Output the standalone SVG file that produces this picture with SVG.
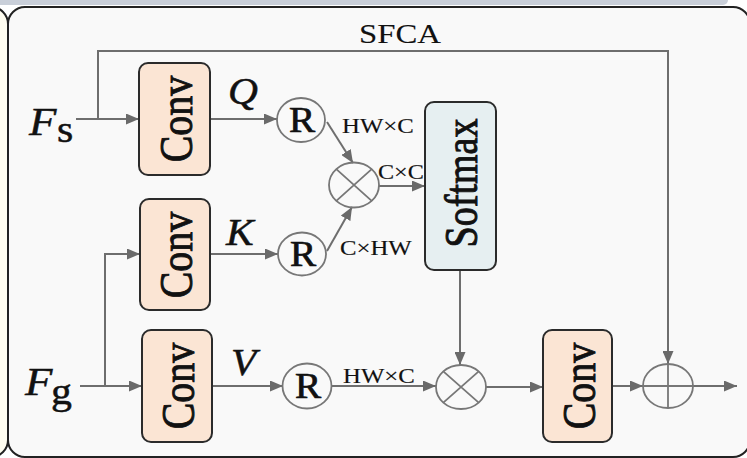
<svg xmlns="http://www.w3.org/2000/svg" width="747" height="458" viewBox="0 0 747 458">
<defs>
<marker id="ah" markerUnits="userSpaceOnUse" markerWidth="13" markerHeight="11" refX="13" refY="5.5" orient="auto">
<path d="M0,0 L13,5.5 L0,11 z" fill="#6a6a6a"/>
</marker>
<style>
.conn path{fill:none;stroke:#6e6e6e;stroke-width:2;marker-end:url(#ah)}
.box{stroke:#2b2b2b;stroke-width:2}
.conv{fill:#fbe5d4}
.soft{fill:#e6eff1}
.op{fill:none;stroke:#777;stroke-width:1.8}
.t{font-family:"Liberation Serif","Times New Roman",serif;fill:#111;stroke:#111;stroke-width:0.5}
.big{font-size:40px;stroke-width:0.8}
.rl{font-size:35px;stroke-width:0.7}
.dim{font-size:21px;stroke-width:0.15}
.it{font-style:italic}
</style>
</defs>
<rect x="0" y="0" width="747" height="458" fill="#ffffff"/>
<rect x="-20" y="-12" width="748" height="17" rx="5" fill="#c9cfd9"/>
<rect x="-200" y="7" width="208" height="450" rx="17" fill="#fffdf0" stroke="#222" stroke-width="2"/>
<rect x="8" y="7" width="742" height="450" rx="17" fill="#f9f9f9" stroke="#222" stroke-width="2"/>
<text class="t" font-size="28" style="stroke-width:0.1" text-anchor="middle" transform="translate(400,43) scale(1.17,1)">SFCA</text>

<g class="conn" id="connectors">
<path d="M76,119 H139"/>
<path d="M98,119 V51 H668 V364"/>
<path d="M210,119 H277"/>
<path d="M327,122 L353,163"/>
<path d="M327,251 L352,207"/>
<path d="M379,186 H425"/>
<path d="M210,254 H278"/>
<path d="M80,386 H142"/>
<path d="M105,386 V254 H140"/>
<path d="M212,386 H283"/>
<path d="M332,386 H436"/>
<path d="M460,270 V365"/>
<path d="M486,387 H543"/>
<path d="M612,386 H643"/>
<path d="M693,386 H737"/>
</g>

<g id="Fs">
<text class="t it" font-size="40" transform="translate(29,135) scale(1.12,1)">F</text>
<text class="t" font-size="38" transform="translate(57,142) scale(1.1,1)">s</text>
</g>
<g id="Fg">
<text class="t it" font-size="40" transform="translate(25,395) scale(1.12,1)">F</text>
<text class="t" font-size="38" transform="translate(51,404) scale(1.1,1)">g</text>
</g>

<g id="conv1">
<rect class="box conv" x="139" y="63" width="71" height="112" rx="9"/>
<text class="t big" text-anchor="middle" transform="translate(192,119) scale(1.18,1) rotate(-90)">Conv</text>
</g>
<g id="conv2">
<rect class="box conv" x="140" y="199" width="70" height="111" rx="9"/>
<text class="t big" text-anchor="middle" transform="translate(192,255) scale(1.18,1) rotate(-90)">Conv</text>
</g>
<g id="conv3">
<rect class="box conv" x="142" y="330" width="70" height="112" rx="9"/>
<text class="t big" text-anchor="middle" transform="translate(194,386) scale(1.18,1) rotate(-90)">Conv</text>
</g>
<g id="conv4">
<rect class="box conv" x="543" y="330" width="69" height="112" rx="9"/>
<text class="t big" text-anchor="middle" transform="translate(595,386) scale(1.18,1) rotate(-90)">Conv</text>
</g>
<g id="softmax">
<rect class="box soft" x="425" y="102" width="71" height="168" rx="9"/>
<text class="t" font-size="38" style="stroke-width:0.8" text-anchor="middle" transform="translate(477,183) scale(1.2,1) rotate(-90)">Softmax</text>
</g>

<g id="labelQ"><text class="t it" font-size="37" transform="translate(228,104) scale(1.12,1)">Q</text></g>
<g id="labelK"><text class="t it" font-size="37" transform="translate(226,245) scale(1.12,1)">K</text></g>
<g id="labelV"><text class="t it" font-size="37" transform="translate(231,375) scale(1.12,1)">V</text></g>

<g id="R1">
<ellipse class="op" cx="301" cy="120" rx="24" ry="22"/>
<text class="t rl" text-anchor="middle" transform="translate(302,132) scale(1.12,1)">R</text>
</g>
<g id="R2">
<ellipse class="op" cx="302" cy="254" rx="24" ry="21.5"/>
<text class="t rl" text-anchor="middle" transform="translate(303,266) scale(1.12,1)">R</text>
</g>
<g id="R3">
<ellipse class="op" cx="307" cy="386" rx="24.5" ry="22.5"/>
<text class="t rl" text-anchor="middle" transform="translate(308,398) scale(1.12,1)">R</text>
</g>

<g id="mul1">
<ellipse class="op" cx="354" cy="185" rx="25" ry="22.5"/>
<path class="op" d="M336.3,169.1 L371.7,200.9 M371.7,169.1 L336.3,200.9"/>
</g>
<g id="mul2">
<ellipse class="op" cx="461" cy="387" rx="25" ry="22"/>
<path class="op" d="M443.3,371.4 L478.7,402.6 M478.7,371.4 L443.3,402.6"/>
</g>
<g id="add">
<ellipse class="op" cx="668" cy="386" rx="25" ry="22"/>
<path class="op" d="M643,386 H693 M668,364 V408"/>
</g>

<g id="dims">
<text class="t dim" transform="translate(342,133) scale(1.18,1)">HW×C</text>
<text class="t dim" transform="translate(378,179) scale(1.15,1)">C×C</text>
<text class="t dim" transform="translate(340,255) scale(1.18,1)">C×HW</text>
<text class="t dim" transform="translate(343,383) scale(1.18,1)">HW×C</text>
</g>
</svg>
